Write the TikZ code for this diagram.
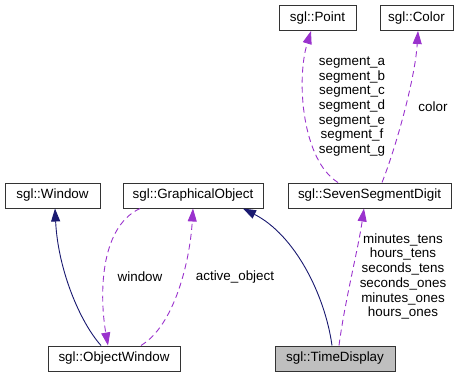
\documentclass[tikz,border=0pt]{standalone}
\usepackage{fontspec}
\setmainfont{Liberation Sans}
\usetikzlibrary{arrows.meta,calc}
\definecolor{inherit}{HTML}{191970}
\definecolor{usage}{HTML}{9A32CD}
\definecolor{current}{HTML}{BFBFBF}
\begin{document}
\begin{tikzpicture}[x=1pt,y=-1pt,
  font=\fontsize{13.4}{14.7}\selectfont,
  cls/.style={draw=black!80,line width=1pt,fill=white,minimum height=25pt,inner sep=0pt},
  inh/.style={-{Triangle[length=13pt,width=9pt,fill=inherit]},draw=inherit,line width=0.9pt},
  use/.style={-{Triangle[length=13pt,width=9pt,fill=usage]},draw=usage,line width=0.9pt,dash pattern=on 6pt off 4pt},
  lbl/.style={align=center,inner sep=0pt}]
\useasboundingbox (0,0) rectangle (465,377);

% classes
\node[cls,minimum width=77pt]  (point) at (317.5,18)  {sgl::Point};
\node[cls,minimum width=73pt]  (color) at (416.5,18)  {sgl::Color};
\node[cls,minimum width=163pt] (ssd)   at (369.5,195.5) {sgl::SevenSegmentDigit};
\node[cls,minimum width=140pt] (gobj)  at (193,195.5) {sgl::GraphicalObject};
\node[cls,minimum width=95pt]  (win)   at (52.5,195.5) {sgl::Window};
\node[cls,minimum width=132pt] (ow)    at (114,358.5) {sgl::ObjectWindow};
\node[cls,minimum width=120pt,fill=current] (td) at (335,358.5) {sgl::TimeDisplay};

% inheritance
\draw[inh] ([xshift=-13pt]ow.north) .. controls (80,322) and (58,270) .. ([xshift=2.5pt]win.south);
\draw[inh] ([xshift=-3pt]td.north) .. controls (325,295) and (295,235) .. ([xshift=50pt]gobj.south);

% usage relations
\draw[use] ([xshift=-53pt]gobj.south) .. controls (98,228) and (100,300) .. ([xshift=-6pt]ow.north);
\draw[use] ([xshift=27pt]ow.north) .. controls (175,325) and (190,260) .. (gobj.south);
\draw[use] ([xshift=4pt]td.north) .. controls (345,300) and (358,250) .. ([xshift=-5.5pt]ssd.south);
\draw[use] ([xshift=-31.5pt]ssd.north) .. controls (302,160) and (296,80) .. ([xshift=-6.5pt]point.south);
\draw[use] ([xshift=12.5pt]ssd.north) .. controls (395,150) and (415,80) .. ([xshift=1.5pt]color.south);

% labels
\node[lbl] (lsegs) at (352,106.5) {segment\_a\\segment\_b\\segment\_c\\segment\_d\\segment\_e\\segment\_f\\segment\_g};
\node[lbl] (lcolor) at (433,107) {color};
\node[lbl] (lwin) at (140,277) {window};
\node[lbl] (lact) at (235,277) {active\_object};
\node[lbl] (ldig) at (403,276.5) {minutes\_tens\\hours\_tens\\seconds\_tens\\seconds\_ones\\minutes\_ones\\hours\_ones};
\end{tikzpicture}
\end{document}
